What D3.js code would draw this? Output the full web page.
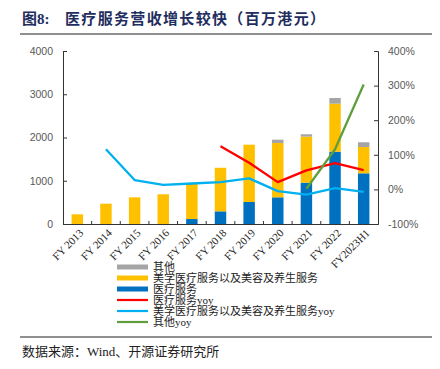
<!DOCTYPE html>
<html><head><meta charset="utf-8">
<script src="https://cdn.jsdelivr.net/npm/d3@7/dist/d3.min.js"></script>
<style>
body{margin:0;background:#fff;}
svg{display:block;}
</style></head>
<body><svg id="c" width="440" height="369"></svg>
<script>
const categories = ["FY 2013","FY 2014","FY 2015","FY 2016","FY 2017","FY 2018","FY 2019","FY 2020","FY 2021","FY 2022","FY2023H1"];
const medical   = [0,0,0,0,115,293,509,617,955,1672,1172];
const aesthetic = [224,470,617,687,826,1007,1325,1256,1065,1110,608];
const other     = [0,0,0,0,0,0,0,77,54,131,110];
const medicalYoy   = [null,null,null,null,null,125,77,21,55,76,56];
const aestheticYoy = [null,116,27,13,17,21,32,-5,-15,4,-7];
const otherYoy     = [null,null,null,null,null,null,null,null,2,116,303];
const leftTicks  = [0,1000,2000,3000,4000];
const rightTicks = [-100,0,100,200,300,400];
const legendNames = ["其他","美学医疗服务以及美容及养生服务","医疗服务","医疗服务yoy","美学医疗服务以及美容及养生服务yoy","其他yoy"];

const C = {other:"#A5A5A5", aesthetic:"#FFC000", medical:"#0070C0", mYoy:"#FF0000", aYoy:"#00B0F0", oYoy:"#5F9E3C"};
const svg = d3.select("#c");
const L=63, R=378, T=51, B=224;

const x = d3.scaleBand().domain(categories).range([L,R]).padding(0);
const bw = x.bandwidth()*0.4;
const cx = c => x(c)+x.bandwidth()/2;
const yL = d3.scaleLinear().domain([0,4000]).range([B,T]);
const yR = d3.scaleLinear().domain([-100,400]).range([B,T]);

// title
svg.append("text").attr("x",22).attr("y",24).attr("font-family","'Liberation Serif','Noto Sans CJK SC'")
  .attr("font-weight","bold").attr("font-size",15).attr("fill","#1F2E5E").text("图8:");
svg.append("text").attr("x",65).attr("y",24).attr("font-family","'Noto Sans CJK SC'")
  .attr("font-weight","bold").attr("font-size",15).attr("fill","#1F2E5E")
  .attr("textLength",260).attr("lengthAdjust","spacing").text("医疗服务营收增长较快（百万港元）");
svg.append("line").attr("x1",20).attr("x2",432).attr("y1",34).attr("y2",34).attr("stroke","#222").attr("stroke-width",1.2);
svg.append("line").attr("x1",20).attr("x2",432).attr("y1",337).attr("y2",337).attr("stroke","#222").attr("stroke-width",1.2);
svg.append("text").attr("x",22).attr("y",356).attr("font-family","'Liberation Serif','Noto Sans CJK SC'")
  .attr("font-size",13).attr("fill","#222").text("数据来源：Wind、开源证券研究所");

// stacked bars
const stackData = categories.map((c,i)=>({c, medical:medical[i], aesthetic:aesthetic[i], other:other[i]}));
const series = d3.stack().keys(["medical","aesthetic","other"])(stackData);
svg.append("g").selectAll("g").data(series).join("g").attr("fill",d=>C[d.key])
  .selectAll("rect").data(d=>d).join("rect")
  .attr("x",d=>cx(d.data.c)-bw/2).attr("width",bw)
  .attr("y",d=>yL(d[1])).attr("height",d=>Math.max(0,yL(d[0])-yL(d[1])));

// axes
const tickFont = g => g.selectAll("text").attr("font-family","'Liberation Sans',Arial").attr("font-size",10.5).attr("fill","#595959");
const gl = svg.append("g").attr("transform",`translate(${L},0)`)
  .call(d3.axisLeft(yL).tickValues(leftTicks).tickSize(-4).tickPadding(10).tickFormat(d3.format("d")));
gl.select(".domain").attr("stroke","#333");
gl.selectAll(".tick line").attr("stroke","#333");
tickFont(gl);
const gr = svg.append("g").attr("transform",`translate(${R},0)`)
  .call(d3.axisRight(yR).tickValues(rightTicks).tickSize(-4).tickPadding(10).tickFormat(d=>d+"%"));
gr.select(".domain").attr("stroke","#333");
gr.selectAll(".tick line").attr("stroke","#333");
tickFont(gr);

const gb = svg.append("g").attr("transform",`translate(0,${B})`)
  .call(d3.axisBottom(x).tickSize(0).tickSizeOuter(0));
gb.select(".domain").attr("stroke","#333");
gb.selectAll(".tick text")
  .attr("font-family","'Liberation Serif','Times New Roman',serif").attr("font-size",11).attr("fill","#222")
  .attr("text-anchor","end").attr("x",0).attr("y",0).attr("dy","0.35em")
  .attr("transform","translate(4,7) rotate(-45)");
// category boundary ticks
svg.append("g").selectAll("line").data(categories.slice(1)).join("line")
  .attr("x1",d=>x(d)).attr("x2",d=>x(d)).attr("y1",B).attr("y2",B-3).attr("stroke","#333");

// lines
const lineGen = vals => d3.line().defined((d,i)=>vals[i]!==null).x((d,i)=>cx(categories[i])).y((d,i)=>yR(vals[i]))(vals);
[[medicalYoy,C.mYoy],[aestheticYoy,C.aYoy],[otherYoy,C.oYoy]].forEach(([v,col])=>{
  svg.append("path").attr("d",lineGen(v)).attr("fill","none").attr("stroke",col).attr("stroke-width",2.3).attr("stroke-linejoin","round");
});

// legend
const legCols = [C.other,C.aesthetic,C.medical,C.mYoy,C.aYoy,C.oYoy];
const legY = [267,278,289,300,311,322];
const lg = svg.append("g");
legendNames.forEach((n,i)=>{
  const h = i<3?5:2.2;
  lg.append("rect").attr("x",117).attr("y",legY[i]-h/2).attr("width",31).attr("height",h).attr("fill",legCols[i]);
  lg.append("text").attr("x",153).attr("y",legY[i]).attr("dy","0.35em")
    .attr("font-family","'Liberation Serif','Noto Sans CJK SC'").attr("font-size",11).attr("fill","#222").text(n);
});
</script></body></html>
